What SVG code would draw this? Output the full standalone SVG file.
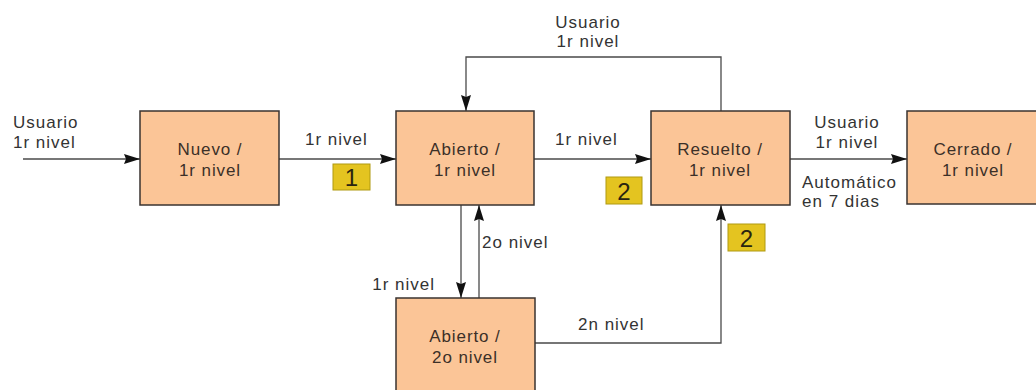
<svg xmlns="http://www.w3.org/2000/svg" width="1036" height="390" viewBox="0 0 1036 390">
<style>
.box{fill:#fbc597;stroke:#3a3330;stroke-width:1.5}
.bt{font-family:"Liberation Sans",Arial,sans-serif;font-size:17px;fill:#3b3028;text-anchor:middle;letter-spacing:0.9px}
.lt{font-family:"Liberation Sans",Arial,sans-serif;font-size:17px;fill:#333;letter-spacing:1px}
.ln{fill:none;stroke:#4a4a4a;stroke-width:1.3}
.bd{fill:#e4c420;stroke:#b09a10;stroke-width:1}
.bn{font-family:"Liberation Sans",Arial,sans-serif;font-size:24px;fill:#2a2410;text-anchor:middle}
</style>
<defs>
<marker id="ah" viewBox="0 0 16 10" refX="16" refY="5" markerWidth="16" markerHeight="10" markerUnits="userSpaceOnUse" orient="auto">
<path d="M0,0 L16,5 L0,10 L2,5 Z" fill="#111"/>
</marker>
</defs>
<rect width="1036" height="390" fill="#fff"/>
<g id="connectors">
<line class="ln" x1="23" y1="159" x2="140" y2="159" marker-end="url(#ah)"/>
<line class="ln" x1="279" y1="159" x2="396" y2="159" marker-end="url(#ah)"/>
<line class="ln" x1="534" y1="159" x2="651" y2="159" marker-end="url(#ah)"/>
<line class="ln" x1="790" y1="159" x2="907" y2="159" marker-end="url(#ah)"/>
<polyline class="ln" points="721,111 721,57 466,57 466,111" marker-end="url(#ah)"/>
<line class="ln" x1="461" y1="205" x2="461" y2="298" marker-end="url(#ah)"/>
<line class="ln" x1="479" y1="298" x2="479" y2="205" marker-end="url(#ah)"/>
<polyline class="ln" points="535,343 721,343 721,205" marker-end="url(#ah)"/>
<text class="lt" x="13" y="128">Usuario</text>
<text class="lt" x="13" y="148">1r nivel</text>
<text class="lt" x="305" y="145">1r nivel</text>
<text class="lt" x="588" y="28" text-anchor="middle">Usuario</text>
<text class="lt" x="588" y="47" text-anchor="middle">1r nivel</text>
<text class="lt" x="555" y="145">1r nivel</text>
<text class="lt" x="847" y="128" text-anchor="middle">Usuario</text>
<text class="lt" x="847" y="148" text-anchor="middle">1r nivel</text>
<text class="lt" x="802" y="188">Automático</text>
<text class="lt" x="802" y="207">en 7 dias</text>
<text class="lt" x="482" y="248">2o nivel</text>
<text class="lt" x="435" y="290" text-anchor="end">1r nivel</text>
<text class="lt" x="578" y="330">2n nivel</text>
</g>
<g id="badge1">
<rect class="bd" x="333" y="164" width="37" height="26"/>
<text class="bn" x="351.5" y="186">1</text>
</g>
<g id="badge2a">
<rect class="bd" x="606" y="177" width="36" height="27"/>
<text class="bn" x="624" y="200">2</text>
</g>
<g id="badge2b">
<rect class="bd" x="728" y="224" width="37" height="27"/>
<text class="bn" x="746.5" y="247">2</text>
</g>
<g id="nuevo">
<rect class="box" x="140" y="111" width="139" height="94"/>
<text class="bt" x="210" y="155">Nuevo /</text>
<text class="bt" x="210" y="176">1r nivel</text>
</g>
<g id="abierto1">
<rect class="box" x="396" y="111" width="138" height="94"/>
<text class="bt" x="465" y="155">Abierto /</text>
<text class="bt" x="465" y="176">1r nivel</text>
</g>
<g id="resuelto">
<rect class="box" x="651" y="111" width="139" height="94"/>
<text class="bt" x="720" y="155">Resuelto /</text>
<text class="bt" x="720" y="176">1r nivel</text>
</g>
<g id="cerrado">
<rect class="box" x="907" y="111" width="140" height="93"/>
<text class="bt" x="973" y="155">Cerrado /</text>
<text class="bt" x="973" y="176">1r nivel</text>
</g>
<g id="abierto2">
<rect class="box" x="396" y="298" width="139" height="100"/>
<text class="bt" x="465" y="342">Abierto /</text>
<text class="bt" x="465" y="363">2o nivel</text>
</g>
</svg>
